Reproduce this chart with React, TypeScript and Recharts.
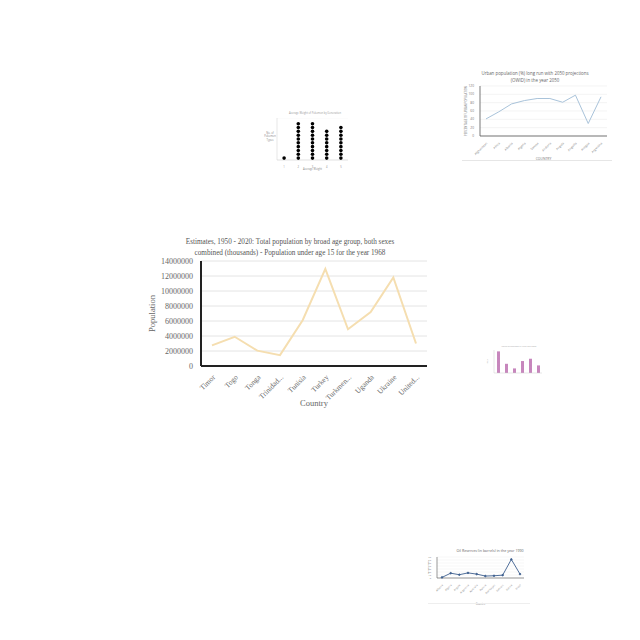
import {
  Bar,
  BarChart,
  CartesianGrid,
  Line,
  LineChart,
  Scatter,
  ScatterChart,
  XAxis,
  YAxis,
} from "recharts";

// main chart: population under age 15, 1968
const countries = [
  "Timor",
  "Togo",
  "Tonga",
  "Trinidad...",
  "Tunisia",
  "Turkey",
  "Turkmen...",
  "Uganda",
  "Ukraine",
  "United...",
];
const under15 = [
  2750000, 3900000, 2050000, 1450000, 6100000, 12950000, 4900000, 7200000,
  11800000, 3000000,
];
const popTicks = [
  0, 2000000, 4000000, 6000000, 8000000, 10000000, 12000000, 14000000,
];

// thumbnail: urban population 2050
const urbanCountries = [
  "Afghanistan",
  "Africa",
  "Albania",
  "Algeria",
  "Samoa",
  "Andorra",
  "Angola",
  "Anguilla",
  "Antigua",
  "Argentina",
];
const urbanShare = [41, 58, 77, 85, 90, 90, 81, 98, 30, 94];
const urbanTicks = [0, 20, 40, 60, 80, 100, 120];

// thumbnail: dot plot counts
const dotGroups = ["1", "2", "3", "4", "5"];
const dotCounts = [1, 10, 10, 8, 9];

// thumbnail: small bars
const barLabels = ["A", "B", "C", "D", "E", "F"];
const barValues = [9.4, 4, 2, 5.2, 6.2, 3.3];

// thumbnail: oil reserves
const oilCountries = [
  "Albania",
  "Algeria",
  "Angola",
  "Argentina",
  "Australia",
  "Austria",
  "Azerbaijan",
  "Bahrain",
  "Bolivia",
  "Brazil",
];
const oilValues = [2, 16, 11, 17, 13, 6.5, 7.5, 9.5, 62, 13];
const oilTicks = [0, 10, 20, 30, 40, 50, 60, 70];

const mainData = countries.map((c, i) => ({ country: c, value: under15[i] }));
const urbanData = urbanCountries.map((c, i) => ({ country: c, value: urbanShare[i] }));
const dotData = dotCounts.flatMap((n, i) =>
  Array.from({ length: n }, (_, k) => ({ x: i, y: k + 0.5 }))
);
const barData = barLabels.map((l, i) => ({ label: l, value: barValues[i] }));
const oilData = oilCountries.map((c, i) => ({ country: c, value: oilValues[i] }));

const serif = "'Liberation Serif', 'DejaVu Serif', serif";
const sans = "'Open Sans', 'Liberation Sans', sans-serif";

function MainChart() {
  return (
    <>
      <div
        style={{
          position: "absolute",
          left: 140,
          top: 237,
          width: 300,
          textAlign: "center",
          fontFamily: serif,
          fontSize: 7.2,
          lineHeight: "11px",
          color: "#555",
        }}
      >
        Estimates, 1950 - 2020: Total population by broad age group, both sexes
        <br />
        combined (thousands) - Population under age 15 for the year 1968
      </div>
      <div style={{ position: "absolute", left: 140, top: 255 }}>
        <LineChart
          width={300}
          height={160}
          data={mainData}
          margin={{ top: 6, right: 13, bottom: 0, left: 0 }}
          style={{ fontFamily: serif }}
        >
          <CartesianGrid vertical={false} stroke="#e4e4e4" strokeWidth={1} />
          <XAxis
            dataKey="country"
            interval={0}
            height={49}
            padding={{ left: 11, right: 11 }}
            tickLine={false}
            stroke="#666"
            axisLine={{ stroke: "#222", strokeWidth: 2 }}
            angle={-45}
            textAnchor="end"
            tick={{ fontSize: 7.4, fill: "#666", stroke: "none" }}
            label={{
              value: "Country",
              position: "insideBottom",
              offset: 9,
              style: { fontSize: 8.5, fill: "#666" },
            }}
          />
          <YAxis
            width={61}
            domain={[0, 14000000]}
            ticks={popTicks}
            interval={0}
            tickLine={false}
            stroke="#666"
            axisLine={{ stroke: "#222", strokeWidth: 2 }}
            tick={{ fontSize: 8, fill: "#666", stroke: "none" }}
            label={{
              value: "Population",
              angle: -90,
              position: "insideLeft",
              offset: 12,
              style: { fontSize: 8.5, fill: "#666", textAnchor: "middle" },
            }}
          />
          <Line
            type="linear"
            dataKey="value"
            stroke="#f5deb0"
            strokeWidth={2}
            dot={false}
            isAnimationActive={false}
          />
        </LineChart>
      </div>
    </>
  );
}

function UrbanThumb() {
  return (
    <>
      <div
        style={{
          position: "absolute",
          left: 465,
          top: 70,
          width: 140,
          textAlign: "center",
          fontFamily: sans,
          fontSize: 4.4,
          lineHeight: "7px",
          color: "#666",
        }}
      >
        Urban population (%) long run with 2050 projections
        <br />
        (OWID) in the year 2050
      </div>
      <div style={{ position: "absolute", left: 460, top: 84 }}>
        <LineChart
          width={153}
          height={76}
          data={urbanData}
          margin={{ top: 2, right: 6, bottom: 0, left: 0 }}
          style={{ fontFamily: sans }}
        >
          <CartesianGrid vertical={false} stroke="#ececec" strokeWidth={0.6} />
          <XAxis
            dataKey="country"
            interval={0}
            height={24}
            padding={{ left: 6, right: 6 }}
            tickLine={false}
            axisLine={{ stroke: "#555", strokeWidth: 0.8 }}
            angle={-45}
            textAnchor="end"
            tickMargin={0}
            tick={{ fontSize: 3, fill: "#777" }}
            label={{
              value: "COUNTRY",
              position: "insideBottom",
              offset: 0,
              style: { fontSize: 3.4, fill: "#777" },
            }}
          />
          <YAxis
            width={20}
            domain={[0, 120]}
            ticks={urbanTicks}
            interval={0}
            tickLine={false}
            axisLine={{ stroke: "#555", strokeWidth: 0.8 }}
            tickMargin={0}
            tick={{ fontSize: 3.2, fill: "#777" }}
            label={{
              value: "PERCENTAGE OF URBAN POPULATION",
              angle: -90,
              position: "insideLeft",
              offset: 6,
              style: { fontSize: 2.8, fill: "#777", textAnchor: "middle" },
            }}
          />
          <Line
            type="linear"
            dataKey="value"
            stroke="#a9c3da"
            strokeWidth={1}
            dot={false}
            isAnimationActive={false}
          />
        </LineChart>
      </div>
      <div
        style={{
          position: "absolute",
          left: 462,
          top: 160,
          width: 150,
          height: 0,
          borderTop: "1px solid #e6e6e6",
        }}
      />
    </>
  );
}

function DotThumb() {
  return (
    <>
      <div
        style={{
          position: "absolute",
          left: 280,
          top: 111,
          width: 70,
          textAlign: "center",
          fontFamily: sans,
          fontSize: 2.6,
          color: "#999",
        }}
      >
        Average Weight of Pokemon by Generation
      </div>
      <div
        style={{
          position: "absolute",
          left: 264,
          top: 132,
          width: 12,
          textAlign: "center",
          fontFamily: sans,
          fontSize: 2.6,
          lineHeight: "3.4px",
          color: "#888",
        }}
      >
        No. of Pokemon Types
      </div>
      <div style={{ position: "absolute", left: 258, top: 118 }}>
        <ScatterChart
          width={95}
          height={54}
          margin={{ top: 0, right: 5, bottom: 0, left: 0 }}
          style={{ fontFamily: sans }}
        >
          <CartesianGrid vertical={false} stroke="#f0f0f0" strokeWidth={0.5} />
          <XAxis
            type="number"
            dataKey="x"
            domain={[-0.5, 4.5]}
            ticks={[0, 1, 2, 3, 4]}
            tickFormatter={(v: number) => dotGroups[v] ?? ""}
            height={12}
            tickLine={false}
            axisLine={{ stroke: "#ccc", strokeWidth: 0.5 }}
            tickMargin={0}
            tick={{ fontSize: 2.6, fill: "#888" }}
            label={{
              value: "Average Weight",
              position: "insideBottom",
              offset: 2,
              style: { fontSize: 2.6, fill: "#888" },
            }}
          />
          <YAxis
            type="number"
            dataKey="y"
            width={19}
            domain={[0, 11]}
            ticks={[0, 1, 2, 3, 4, 5, 6, 7, 8, 9, 10, 11]}
            tickLine={false}
            axisLine={{ stroke: "#ccc", strokeWidth: 0.5 }}
            tick={false}
          />
          <Scatter
            data={dotData}
            fill="#000"
            isAnimationActive={false}
            shape={(p: any) => <circle cx={p.cx} cy={p.cy} r={1.8} fill="#000" />}
          />
        </ScatterChart>
      </div>
    </>
  );
}

function BarThumb() {
  return (
    <>
      <div
        style={{
          position: "absolute",
          left: 494,
          top: 345,
          width: 50,
          textAlign: "center",
          fontFamily: sans,
          fontSize: 2,
          color: "#aaa",
        }}
      >
        Count of Pokemon by Type and Stage
      </div>
      <div style={{ position: "absolute", left: 484, top: 349 }}>
        <BarChart
          width={60}
          height={28}
          data={barData}
          margin={{ top: 1, right: 2, bottom: 0, left: 0 }}
          barCategoryGap={2}
        >
          <defs>
            <pattern id="dotfill" width="1.4" height="1.4" patternUnits="userSpaceOnUse">
              <rect width="1.4" height="1.4" fill="#e6bde0" />
              <circle cx="0.7" cy="0.7" r="0.55" fill="#9c3a8c" />
            </pattern>
          </defs>
          <XAxis
            dataKey="label"
            height={4}
            tick={false}
            tickLine={false}
            axisLine={{ stroke: "#ccc", strokeWidth: 0.5 }}
          />
          <YAxis
            width={10}
            domain={[0, 10]}
            tick={false}
            tickLine={false}
            axisLine={{ stroke: "#ccc", strokeWidth: 0.5 }}
            label={{
              value: "Value",
              angle: -90,
              position: "insideLeft",
              offset: 3,
              style: { fontSize: 2, fill: "#888", textAnchor: "middle" },
            }}
          />
          <Bar
            dataKey="value"
            fill="url(#dotfill)"
            barSize={3}
            isAnimationActive={false}
          />
        </BarChart>
      </div>
    </>
  );
}

function OilThumb() {
  return (
    <>
      <div
        style={{
          position: "absolute",
          left: 440,
          top: 548,
          width: 100,
          textAlign: "center",
          fontFamily: sans,
          fontSize: 3.6,
          color: "#666",
        }}
      >
        Oil Reserves (in barrels) in the year 1990
      </div>
      <div style={{ position: "absolute", left: 422, top: 555 }}>
        <LineChart
          width={106}
          height={50}
          data={oilData}
          margin={{ top: 2, right: 4, bottom: 0, left: 0 }}
          style={{ fontFamily: sans }}
        >
          <CartesianGrid vertical={false} stroke="#eee" strokeWidth={0.5} />
          <XAxis
            dataKey="country"
            interval={0}
            height={27}
            padding={{ left: 5, right: 4 }}
            tickLine={false}
            axisLine={{ stroke: "#555", strokeWidth: 0.6 }}
            angle={-45}
            textAnchor="end"
            tickMargin={0}
            tick={{ fontSize: 2.6, fill: "#888" }}
            label={{
              value: "Country",
              position: "insideBottom",
              offset: 0,
              style: { fontSize: 2.6, fill: "#888" },
            }}
          />
          <YAxis
            width={15}
            domain={[0, 70]}
            ticks={oilTicks}
            interval={0}
            tickLine={false}
            axisLine={{ stroke: "#555", strokeWidth: 0.6 }}
            tickMargin={0}
            tick={{ fontSize: 2.4, fill: "#888" }}
            label={{
              value: "Oil Reserves",
              angle: -90,
              position: "insideLeft",
              offset: 6,
              style: { fontSize: 2.4, fill: "#888", textAnchor: "middle" },
            }}
          />
          <Line
            type="linear"
            dataKey="value"
            stroke="#3d5f8f"
            strokeWidth={0.9}
            dot={{ r: 0.8, fill: "#3d5f8f", stroke: "#3d5f8f" }}
            isAnimationActive={false}
          />
        </LineChart>
      </div>
      <div
        style={{
          position: "absolute",
          left: 428,
          top: 603,
          width: 102,
          height: 0,
          borderTop: "1px solid #eeeeee",
        }}
      />
    </>
  );
}

export default function App() {
  return (
    <div
      style={{
        position: "absolute",
        left: 0,
        top: 0,
        width: 640,
        height: 640,
        background: "#fff",
        overflow: "hidden",
      }}
    >
      <UrbanThumb />
      <DotThumb />
      <MainChart />
      <BarThumb />
      <OilThumb />
    </div>
  );
}
